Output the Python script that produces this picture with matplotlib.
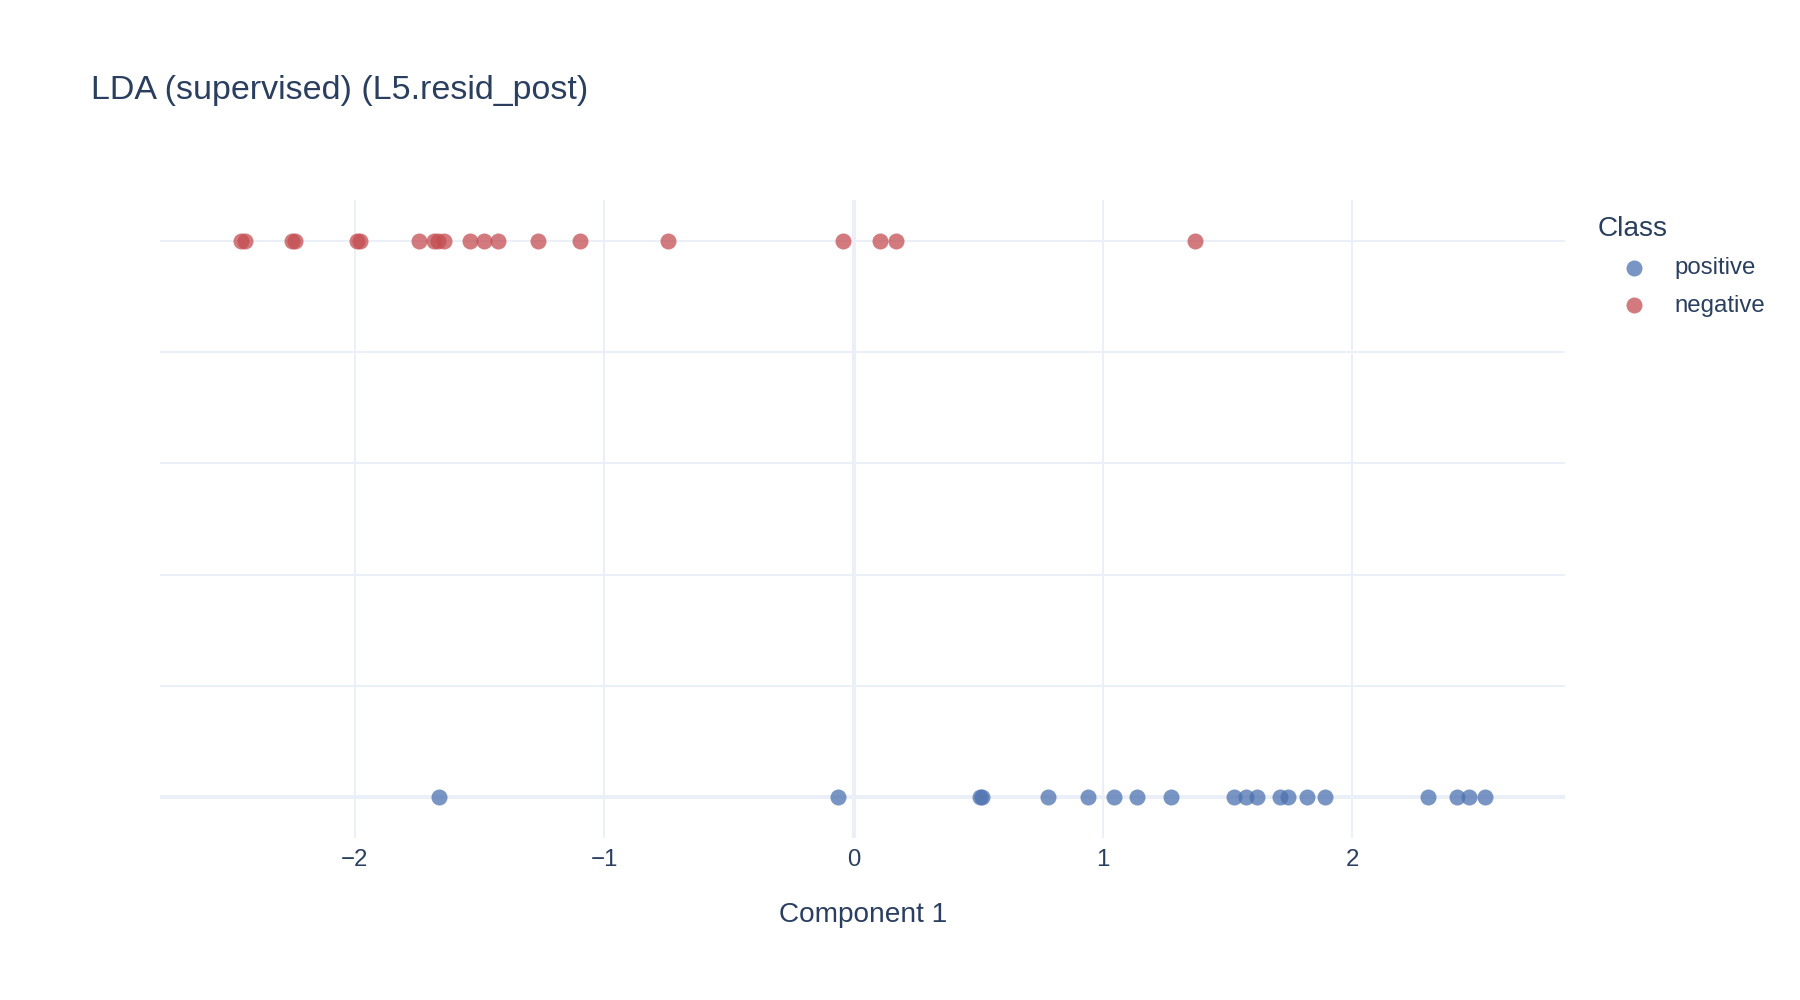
import matplotlib
matplotlib.use("Agg")
import matplotlib.pyplot as plt

plt.rcParams['font.family'] = ['Liberation Sans', 'DejaVu Sans']

title = "LDA (supervised) (L5.resid_post)"
x_label = "Component 1"
legend_title = "Class"
class_names = ["positive", "negative"]
class_colors = ["#4C72B0", "#C44E52"]

positive_x = [-1.662, -0.061, 0.505, 0.515, 0.779, 0.941, 1.045, 1.135, 1.271,
              1.526, 1.574, 1.618, 1.710, 1.741, 1.816, 1.891, 2.301, 2.418,
              2.466, 2.533]
negative_x = [-2.456, -2.441, -2.252, -2.237, -1.991, -1.979, -1.743, -1.680,
              -1.665, -1.642, -1.537, -1.482, -1.427, -1.264, -1.095, -0.745,
              -0.044, 0.105, 0.169, 1.368]
positive_y = [0] * len(positive_x)
negative_y = [1] * len(negative_x)

x_ticks = [-2, -1, 0, 1, 2]
x_tick_labels = ["\u22122", "\u22121", "0", "1", "2"]
y_grid = [0, 0.2, 0.4, 0.6, 0.8, 1.0]

text_color = "#2a3f5f"
grid_color = "#EBF0F8"

fig = plt.figure(figsize=(18, 10), dpi=100)
ax = fig.add_axes([160 / 1800, 162 / 1000, 1405 / 1800, 638 / 1000])
ax.set_xlim(-2.78, 2.852)
ax.set_ylim(-0.074, 1.074)

for s in ax.spines.values():
    s.set_visible(False)

ax.set_xticks(x_ticks)
ax.set_xticklabels(x_tick_labels)
ax.set_yticks(y_grid)
ax.set_yticklabels([])
ax.tick_params(axis='both', length=0, colors=text_color, labelsize=17.3, pad=7.7)
ax.grid(True, color=grid_color, linewidth=1.44, zorder=0)
ax.set_axisbelow(True)
ax.axhline(0, color=grid_color, linewidth=2.9, zorder=1)
ax.axvline(0, color=grid_color, linewidth=2.9, zorder=1)

ax.scatter(positive_x, positive_y, s=133, color=class_colors[0], alpha=0.75,
           linewidths=0, label=class_names[0], zorder=3)
ax.scatter(negative_x, negative_y, s=133, color=class_colors[1], alpha=0.75,
           linewidths=0, label=class_names[1], zorder=3)

ax.set_xlabel(x_label, fontsize=20.2, color=text_color)
ax.xaxis.set_label_coords(0.5 + (863 - 862.5) / 1405, (838 - 914.5) / 638)
ax.xaxis.label.set_verticalalignment('center')

fig.text(91 / 1800, 1 - 90.5 / 1000, title, fontsize=24.5, color=text_color,
         ha='left', va='center')

leg = ax.legend(loc='upper left', bbox_to_anchor=(1598 / 1800, 1 - 216 / 1000),
                bbox_transform=fig.transFigure, frameon=False, title=legend_title,
                fontsize=17.3, title_fontsize=20.2, scatterpoints=1,
                handlelength=3.0, handletextpad=0.17, labelspacing=0.64,
                borderpad=0, borderaxespad=0, alignment='left')
for t in leg.get_texts():
    t.set_color(text_color)
leg.get_title().set_color(text_color)

fig.savefig("out.png", dpi=100, facecolor="white")
